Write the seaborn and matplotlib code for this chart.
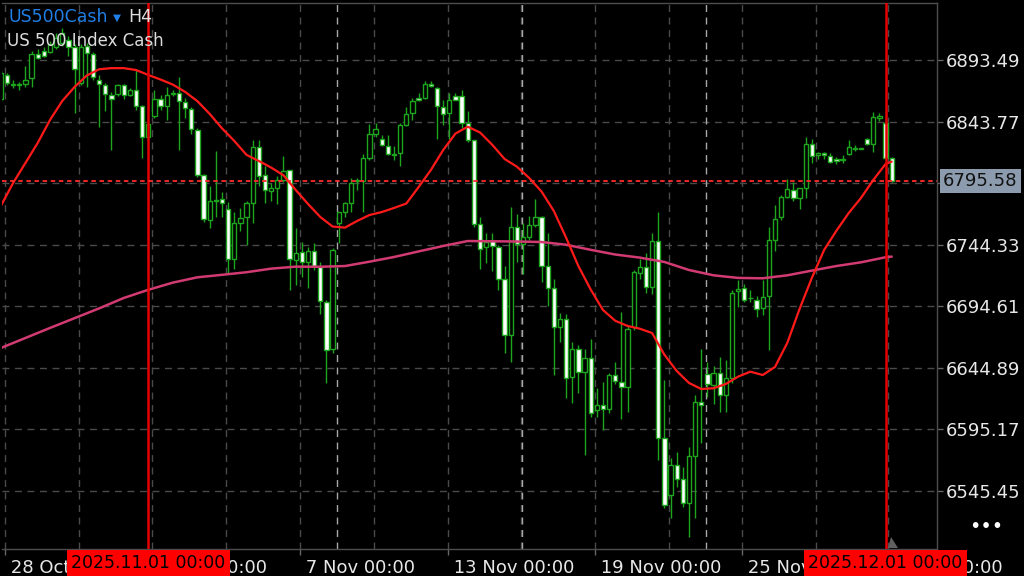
import numpy as np
import pandas as pd
import seaborn as sns
import matplotlib.pyplot as plt
from matplotlib.patches import Polygon

# US500Cash H4 candles, bar 0 = 28 Oct 00:00 (six bars a day)
opens = [6862, 6881, 6874, 6873.5, 6874, 6879, 6898, 6901, 6900, 6904,
         6907, 6910, 6904, 6875, 6905, 6898, 6877, 6873, 6865, 6866,
         6873, 6865, 6869, 6856, 6831, 6848, 6862, 6856, 6866, 6866.5,
         6859.5, 6854, 6837, 6801, 6764, 6780, 6781, 6773, 6733, 6762,
         6766.5, 6778, 6823.5, 6801, 6788, 6790.5, 6796.5, 6804.5, 6732, 6738.5,
         6730.5, 6739.5, 6726, 6698, 6660, 6761.5, 6771, 6778, 6796, 6796,
         6814.5, 6834, 6829.5, 6824, 6817.5, 6818, 6841, 6850.5, 6862.5, 6862.5,
         6874, 6871, 6855.5, 6850.5, 6864.5, 6864.5, 6842.5, 6828.5, 6761, 6742.5,
         6747, 6742.5, 6716.5, 6671.5, 6758.5, 6744.5, 6750.5, 6760.5, 6767, 6727,
         6709, 6677.5, 6684.5, 6637.5, 6660.5, 6641.5, 6653, 6611, 6615, 6612,
         6639.5, 6633.5, 6629.5, 6678, 6721.5, 6726.5, 6710, 6747.5, 6588, 6542,
         6566.5, 6555.5, 6535.5, 6573.5, 6617, 6640, 6631, 6641, 6623, 6637,
         6707, 6709, 6701, 6700, 6693, 6702.5, 6748, 6767, 6783, 6788.5,
         6782, 6790.5, 6825.5, 6816.5, 6818, 6816, 6813.5, 6813, 6817.5, 6822,
         6822, 6830, 6825.5, 6847, 6843, 6814]
highs = [6885, 6883, 6877, 6876, 6889, 6901, 6902, 6904, 6909, 6915,
         6919, 6913, 6906, 6906, 6907, 6900, 6881, 6875, 6868, 6874,
         6874, 6871, 6885, 6857, 6845, 6869, 6865, 6872, 6869, 6880,
         6863, 6855.5, 6838.5, 6801.5, 6792, 6820, 6787, 6779, 6771, 6774,
         6780, 6829, 6829, 6808, 6794, 6800, 6816, 6805, 6757.5, 6746.5,
         6742.5, 6746, 6730.5, 6700, 6741.5, 6771, 6779, 6798, 6798, 6817.5,
         6841.5, 6843, 6833, 6833, 6824, 6842.5, 6855.5, 6862.5, 6866.5, 6876.5,
         6876.5, 6872, 6861, 6866.5, 6867, 6869, 6852.5, 6829, 6766.5, 6754,
         6753.5, 6744, 6727, 6774.5, 6769, 6762, 6767.5, 6781, 6767.5, 6754,
         6716.5, 6689.5, 6688.5, 6666, 6663.5, 6660.5, 6668, 6628.5, 6633.5, 6641,
         6650, 6690, 6679.5, 6724, 6732.5, 6737.5, 6753.5, 6771, 6635, 6572,
         6577, 6564.5, 6581, 6623, 6660.5, 6650, 6646, 6653.5, 6651, 6707.5,
         6716, 6712.5, 6707.5, 6702.5, 6716, 6759, 6776.5, 6784.5, 6797, 6795,
         6790.5, 6831.5, 6830, 6819.5, 6819.5, 6818, 6815.5, 6817, 6829, 6825,
         6822.5, 6830.5, 6851.5, 6851, 6846.5, 6815.5]
lows = [6860, 6873, 6871, 6869, 6872, 6872, 6894, 6896, 6899, 6902,
        6905, 6897, 6851, 6873, 6872, 6877, 6839, 6852, 6821, 6864,
        6862, 6864, 6853, 6814, 6829, 6847, 6853, 6845, 6864, 6821,
        6847, 6834, 6799, 6763, 6758, 6767, 6767, 6721, 6725, 6755,
        6744, 6762, 6792, 6778, 6780, 6777, 6795, 6708, 6712, 6718,
        6709, 6724, 6688, 6632.5, 6656.5, 6745.5, 6767, 6771, 6788.5, 6771,
        6812.5, 6831, 6824, 6816.5, 6812.5, 6807.5, 6840, 6845, 6860, 6862,
        6872, 6829.5, 6841, 6830, 6861, 6838.5, 6827, 6759, 6724.5, 6729.5,
        6723, 6707.5, 6656.5, 6650, 6730, 6720.5, 6748, 6758.5, 6714.5, 6695,
        6639, 6666, 6620.5, 6616.5, 6624.5, 6574.5, 6605.5, 6605, 6595, 6608.5,
        6632, 6603.5, 6609.5, 6675.5, 6717, 6705.5, 6704.5, 6570.5, 6531.5, 6523.5,
        6549, 6532.5, 6508.5, 6523.5, 6584, 6621.5, 6616, 6609.5, 6609.5, 6632.5,
        6694, 6698, 6698, 6686, 6687.5, 6659.5, 6739.5, 6764.5, 6782, 6780,
        6773.5, 6782, 6810.5, 6813.5, 6813.5, 6810, 6809.5, 6810.5, 6816.5, 6820,
        6821.5, 6825, 6819.5, 6844, 6812.5, 6795]
closes = [6883, 6875, 6873, 6874, 6877, 6898, 6895, 6897, 6906, 6911,
          6915, 6904, 6886, 6904, 6899, 6880, 6874, 6866, 6862, 6873,
          6865, 6869, 6856, 6831, 6842, 6862, 6856, 6865, 6866.5, 6860,
          6855, 6837.5, 6801, 6765, 6780, 6780.5, 6778, 6733, 6762, 6766,
          6778, 6823, 6800, 6788.5, 6790.5, 6796.5, 6804, 6732.5, 6738, 6730.5,
          6739, 6727.5, 6698.5, 6659.5, 6740, 6770.5, 6778, 6794.5, 6796.5, 6814,
          6833.5, 6837.5, 6825, 6817.5, 6817, 6841, 6849.5, 6860.5, 6861, 6874,
          6872.5, 6856.5, 6850, 6861, 6861.5, 6843, 6829, 6761, 6741, 6746.5,
          6743, 6717, 6671.5, 6758.5, 6744.5, 6750.5, 6760, 6767, 6727.5, 6709.5,
          6677.5, 6684.5, 6637, 6660.5, 6641.5, 6652.5, 6608.5, 6615, 6612, 6639.5,
          6634.5, 6629.5, 6676, 6722, 6726.5, 6710, 6747.5, 6588, 6534, 6566.5,
          6555.5, 6535.5, 6573.5, 6617, 6615, 6631.5, 6640.5, 6623, 6637, 6705.5,
          6708.5, 6699.5, 6701, 6692.5, 6702, 6748, 6765, 6783, 6789, 6782,
          6790, 6825.5, 6816, 6818, 6816.5, 6811.5, 6812, 6813.5, 6823, 6822.5,
          6822.5, 6825.5, 6847.5, 6848, 6814, 6795.58]

# moving averages (bar, price)
ma_fast_bar = list(range(0, 146, 2)) + [145]
ma_fast = [6775.6, 6794.2, 6810.3, 6826.5, 6845.0, 6860.4, 6871.7, 6881.0, 6886.0, 6886.9,
           6886.9, 6885.4, 6881.4, 6877.7, 6873.6, 6867.7, 6860.2, 6849.9, 6838.3, 6828.1,
           6816.8, 6811.9, 6806.6, 6800.4, 6788.5, 6777.2, 6766.7, 6759.0, 6758.1, 6763.5,
           6768.3, 6770.7, 6774.0, 6777.6, 6790.9, 6804.7, 6820.8, 6834.1, 6839.6, 6834.9,
           6824.9, 6813.5, 6807.3, 6798.2, 6787.3, 6771.6, 6750.0, 6727.1, 6708.2, 6691.6,
           6682.9, 6678.7, 6676.5, 6673.0, 6655.5, 6642.4, 6632.7, 6627.8, 6628.4, 6631.9,
           6637.8, 6641.8, 6639.1, 6645.6, 6665.0, 6692.4, 6717.5, 6740.1, 6755.6, 6769.9,
           6782.1, 6796.6, 6809.5, 6811.4]
ma_slow_bar = list(range(0, 145, 4)) + [145]
ma_slow = [6660.9, 6669.0, 6677.1, 6685.0, 6692.9, 6701.3, 6707.9, 6713.7, 6718.0,
           6720.0, 6722.1, 6725.0, 6726.6, 6726.5, 6727.1, 6730.6, 6734.4, 6738.9,
           6743.3, 6747.3, 6747.1, 6746.9, 6746.5, 6744.3, 6740.2, 6736.4, 6733.9,
           6730.4, 6723.9, 6719.6, 6717.5, 6717.2, 6719.6, 6723.4, 6727.1, 6730.1,
           6734.2, 6734.7]

last_price = 6795.58
price_ticks = [6893.49, 6843.77, 6794.05, 6744.33, 6694.61, 6644.89, 6595.17, 6545.45]
price_labels = ["6893.49", "6843.77", "", "6744.33", "6694.61", "6644.89", "6595.17", "6545.45"]
time_ticks = [0.7, 24.6, 48.7, 72.7, 96.7, 120.6, 144.4]
time_labels = ["28 Oct 00:00", "3 Nov 00:00", "7 Nov 00:00", "13 Nov 00:00",
               "19 Nov 00:00", "25 Nov 00:00", "1 Dec 00:00"]
grid_minor = [12.7, 36.7, 60.7, 84.7, 108.7, 132.7]
week_lines = [54.75, 84.8, 114.8]
vline_bars = [24, 144]
vline_labels = ["2025.11.01 00:00", "2025.12.01 00:00"]

sns.set_theme(style="dark", rc={"axes.facecolor": "black", "figure.facecolor": "black",
                                "axes.edgecolor": "#4d4d4d", "grid.color": "#4a4a4a"})
plt.rcParams["font.family"] = ["DejaVu Sans"]

fig = plt.figure(figsize=(10.24, 5.76), dpi=100)
ax = fig.add_axes([2 / 1024, 27 / 576, 935 / 1024, 546 / 576])

o = np.array(opens)
c = np.array(closes)
bars = np.arange(len(o))
up = c >= o
green = "#1ea51e"

# wicks, then bodies (bull hollow, bear white)
ax.vlines(bars, lows, highs, color=green, lw=1, zorder=3)
ax.bar(bars, np.abs(c - o), bottom=np.minimum(o, c), width=0.7,
       color=np.where(up, "black", "white"), edgecolor=green, linewidth=1, zorder=4)

fast = pd.DataFrame({"bar": ma_fast_bar, "price": ma_fast})
slow = pd.DataFrame({"bar": ma_slow_bar, "price": ma_slow})
sns.lineplot(data=slow, x="bar", y="price", ax=ax, color="#d23a72", lw=1.8, zorder=5)
sns.lineplot(data=fast, x="bar", y="price", ax=ax, color="#ff1a1a", lw=1.6, zorder=6)

# separators and markers
for b in week_lines:
    ax.axvline(b, color="#a8a8a8", lw=1, ls=(0, (5, 4)), zorder=1)
for b in vline_bars:
    ax.axvline(b, color="#e60000", lw=1.8, zorder=7)
ax.axhline(last_price, color="#ff2a2a", lw=1.3, ls=(0, (2.5, 2)), zorder=7)

ax.set_xlim(0.19, 152.37)
ax.set_ylim(6498.6, 6939.5)
ax.set_xlabel("")
ax.set_ylabel("")

ax.set_xticks(time_ticks, labels=[" " + t for t in time_labels])
ax.set_xticks(grid_minor, minor=True)
plt.setp(ax.get_xticklabels(), ha="left")
ax.yaxis.tick_right()
ax.set_yticks(price_ticks, labels=price_labels)

ax.tick_params(axis="x", which="major", bottom=True, length=4, width=1, color="#666666",
               pad=3, labelsize=13, labelcolor="#e8e8e8")
ax.tick_params(axis="x", which="minor", bottom=False, length=0)
ax.tick_params(axis="y", right=True, left=False, labelright=True, labelleft=False,
               length=4, width=1, color="#666666", pad=2, labelsize=13, labelcolor="#e8e8e8")
ax.grid(True, which="both", axis="x", color="#4a4a4a", lw=1, ls=(0, (5, 4)))
ax.grid(True, which="major", axis="y", color="#4a4a4a", lw=1, ls=(0, (5, 4)))
for s in ax.spines.values():
    s.set_color("#4d4d4d")
    s.set_linewidth(1)
ax.spines["left"].set_visible(False)

# label boxes on the axes
for b, lab in zip(vline_bars, vline_labels):
    ax.text(b, -0.0256, lab, transform=ax.get_xaxis_transform(), ha="center", va="center",
            fontsize=12.5, color="black", zorder=20, clip_on=False,
            bbox=dict(boxstyle="square,pad=0.24", fc="#ff0000", ec="none"))
ax.text(1.0064, last_price, f"{last_price:.2f}", transform=ax.get_yaxis_transform(),
        ha="left", va="center", fontsize=13, color="#111111", zorder=20, clip_on=False,
        bbox=dict(boxstyle="square,pad=0.18", fc="#8c9cae", ec="none"))

# header
fig.text(8 / 1024, 1 - 22 / 576, "US500Cash", color="#1f7fe6", fontsize=12.5, va="baseline")
fig.text(113 / 1024, 1 - 21 / 576, "\u25bc", color="#1f7fe6", fontsize=7.5, va="baseline")
fig.text(128 / 1024, 1 - 22 / 576, "H4", color="#e0e0e0", fontsize=12.5, va="baseline")
fig.text(7 / 1024, 1 - 46 / 576, "US 500 Index Cash", color="#dcdcdc", fontsize=12, va="baseline")
fig.text(969 / 1024, 1 - 527 / 576, "\u2022\u2022\u2022", color="white", fontsize=14, va="center")
fig.patches.append(Polygon([[888 / 1024, 28 / 576], [898 / 1024, 28 / 576], [891 / 1024, 39 / 576]],
                           closed=True, transform=fig.transFigure, fc="#606060", ec="none"))

fig.savefig("out.png", dpi=100, facecolor="black")
